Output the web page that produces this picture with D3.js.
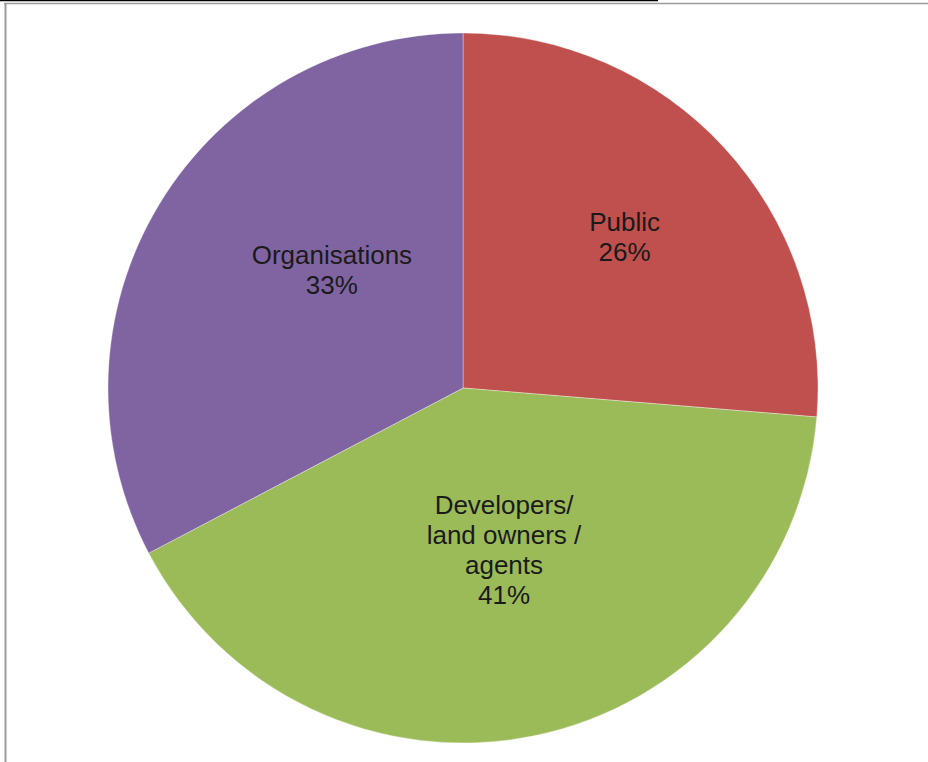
<!DOCTYPE html>
<html>
<head>
<meta charset="utf-8">
<script src="https://cdn.jsdelivr.net/npm/d3@7"></script>
<style>
  body { margin: 0; background: #fff; }
  svg { display: block; }
</style>
</head>
<body>
<div id="chart"></div>
<script>
// Data
const categories = ['Public', 'Developers/ land owners / agents', 'Organisations'];
const labelLines = [['Public'], ['Developers/', 'land owners /', 'agents'], ['Organisations']];
const shares = [26.3, 41.0, 32.7];
const colors = ['#C0504D', '#9BBB59', '#8064A2'];

const width = 928, height = 762;
const cx = 463, cy = 388, radius = 355;
const fontSize = 26, lineHeight = 30;
// small nudges so labels sit where Excel's best-fit put them
const labelNudge = [[18, -19], [2, -30], [36, -17]];

const svg = d3.select('#chart')
    .append('svg')
    .attr('width', width)
    .attr('height', height);

// frame lines at the edges of the screenshot
svg.append('line')
    .attr('x1', 0).attr('x2', 658)
    .attr('y1', 0.5).attr('y2', 0.5)
    .attr('stroke', '#000')
    .attr('stroke-width', 1.5);
svg.append('line')
    .attr('x1', 4).attr('x2', width)
    .attr('y1', 3.5).attr('y2', 3.5)
    .attr('stroke', '#9a9a9a')
    .attr('stroke-width', 1.5);
svg.append('line')
    .attr('x1', 5.5).attr('x2', 5.5)
    .attr('y1', 3).attr('y2', height)
    .attr('stroke', '#9a9a9a')
    .attr('stroke-width', 2);

const pie = d3.pie().sort(null).value((d) => d);
const arcs = pie(shares);

const arc = d3.arc().innerRadius(0).outerRadius(radius);
const labelArc = d3.arc().innerRadius(radius * 0.55).outerRadius(radius * 0.55);

const g = svg.append('g')
    .attr('transform', 'translate(' + cx + ',' + cy + ')');

g.selectAll('.slice')
    .data(arcs)
    .join('path')
    .attr('class', 'slice')
    .attr('d', arc)
    .attr('fill', (d, i) => colors[i])
    .attr('stroke', 'rgba(255,255,255,0.35)')
    .attr('stroke-width', 1);

// labels: category lines then rounded percent
const total = d3.sum(shares);
const labels = g.selectAll('.label')
    .data(arcs)
    .join('text')
    .attr('class', 'label')
    .attr('text-anchor', 'middle')
    .attr('font-family', 'Liberation Sans, Arial, sans-serif')
    .attr('font-size', fontSize)
    .attr('fill', '#1a1a1a')
    .attr('transform', (d, i) => {
        const c = labelArc.centroid(d);
        return 'translate(' + (c[0] + labelNudge[i][0]) + ',' + (c[1] + labelNudge[i][1]) + ')';
    });

labels.each(function (d, i) {
    const lines = labelLines[i].concat([Math.round(shares[i] / total * 100) + '%']);
    const n = lines.length;
    const firstBaseline = fontSize * 0.716 / 2 - lineHeight * (n - 1) / 2;
    d3.select(this).selectAll('tspan')
        .data(lines)
        .join('tspan')
        .attr('x', 0)
        .attr('y', (t, k) => firstBaseline + k * lineHeight)
        .text((t) => t);
});
</script>
</body>
</html>
